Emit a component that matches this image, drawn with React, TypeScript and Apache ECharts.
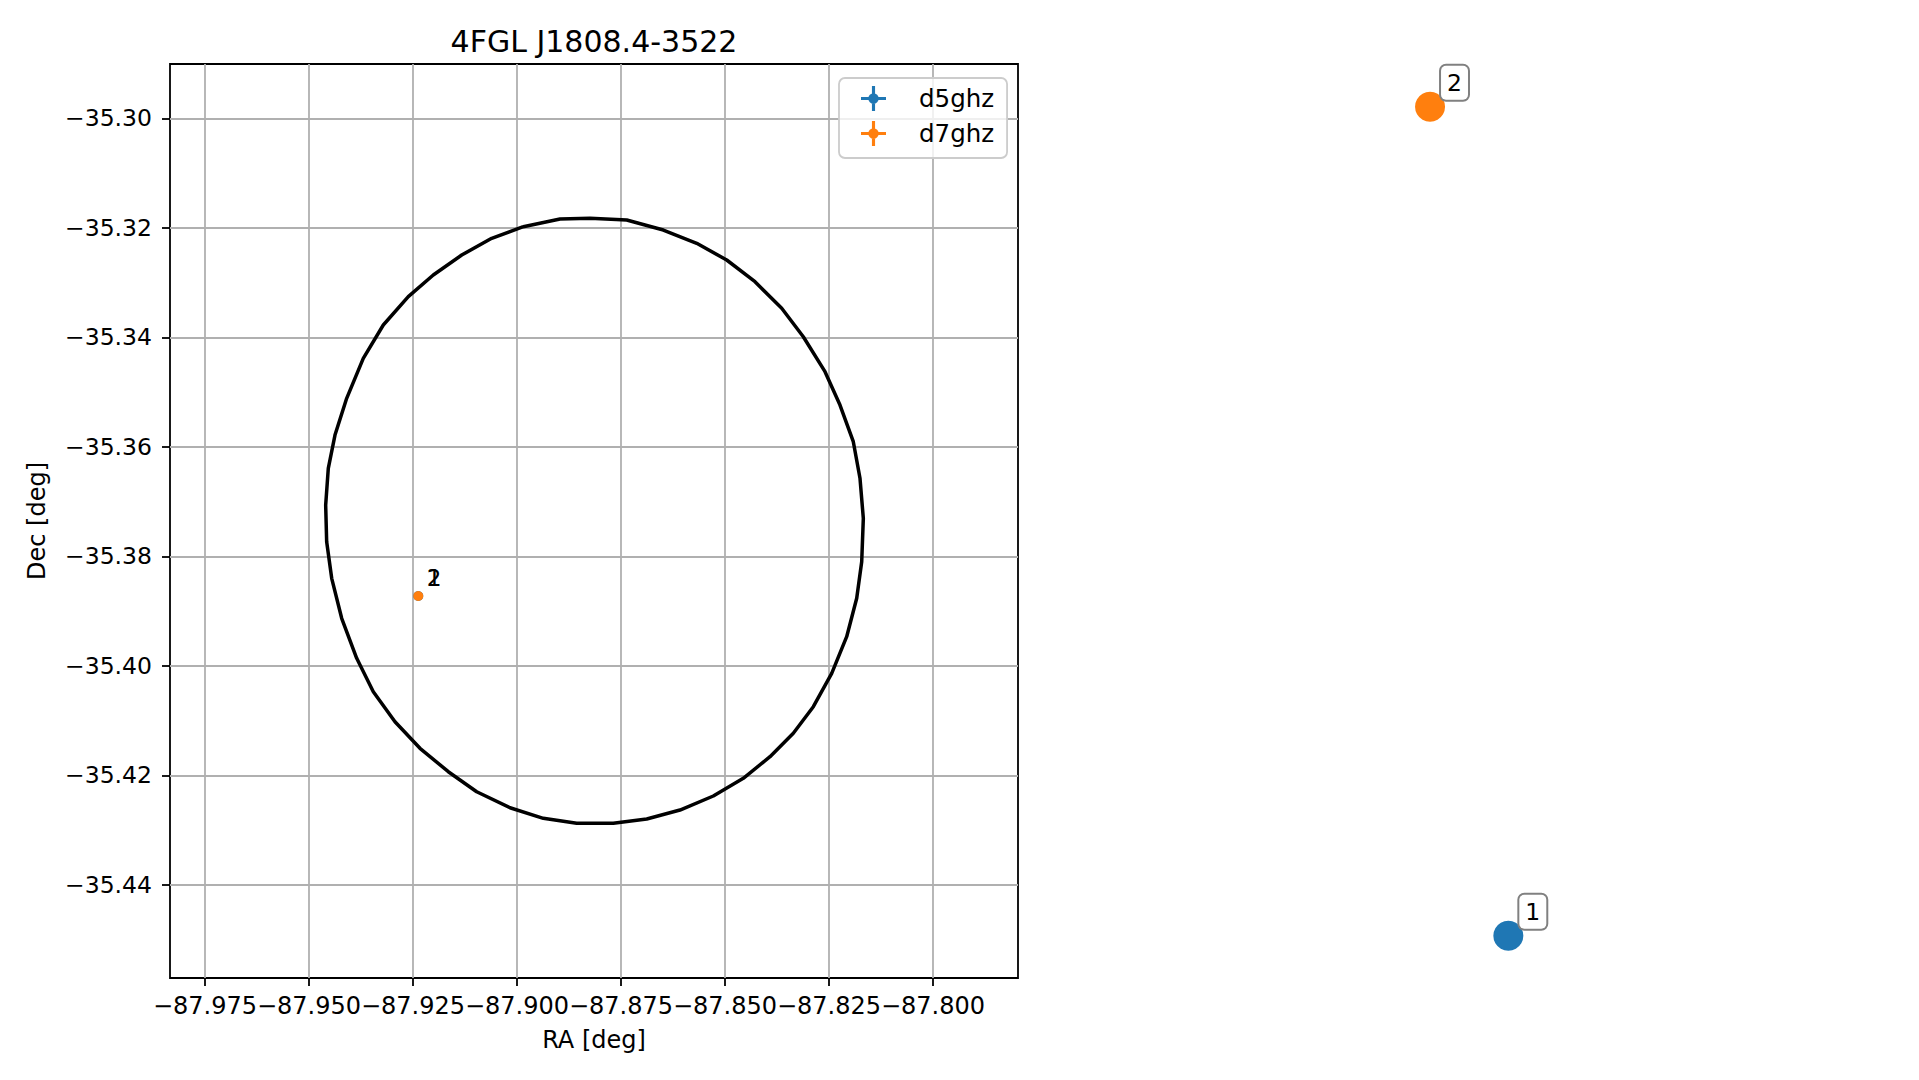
import React, { useEffect, useRef } from 'react';
import * as echarts from 'echarts';

const titleText = '4FGL J1808.4-3522';
const xAxisName = 'RA [deg]';
const yAxisName = 'Dec [deg]';

const xTicks = [-87.975, -87.95, -87.925, -87.9, -87.875, -87.85, -87.825, -87.8];
const yTicks = [-35.3, -35.32, -35.34, -35.36, -35.38, -35.4, -35.42, -35.44];
const raLimits = [-87.98341, -87.77957];
const decLimits = [-35.45702, -35.29008];

const seriesNames = ['d5ghz', 'd7ghz'];
const sourceLabels = ['1', '2'];
const seriesColors = ['#1f77b4', '#ff7f0e'];

// source positions (RA, Dec)
const d5Pos = [[-87.92373, -35.38725]];
const d7Pos = [[-87.92373, -35.38725]];

// the same sources, drawn again in figure-fraction coordinates (right side of the figure)
const d5FigPos = [[0.786, 0.1336]];
const d7FigPos = [[0.7452, 0.9012]];

// 4FGL error ellipse vertices
const ellipseRA = [
  -87.89849, -87.88966, -87.88245, -87.87363, -87.86483, -87.8568, -87.84959, -87.84279,
  -87.83637, -87.83118, -87.82596, -87.82236, -87.81916, -87.81755, -87.81675, -87.81714,
  -87.81834, -87.82075, -87.82435, -87.82877, -87.83358, -87.83918, -87.8456, -87.85281,
  -87.86082, -87.86882, -87.87685, -87.88565, -87.89368, -87.90168, -87.90969, -87.91651,
  -87.92332, -87.92933, -87.93454, -87.93853, -87.94214, -87.94454, -87.94575, -87.94599,
  -87.94536, -87.94375, -87.94094, -87.93695, -87.93214, -87.92613, -87.92012, -87.91329,
  -87.90608, -87.89849,
];
const ellipseDec = [
  -35.3198, -35.31839, -35.31826, -35.31858, -35.3204, -35.32283, -35.32588, -35.32984,
  -35.3347, -35.33989, -35.34628, -35.35237, -35.35907, -35.36575, -35.37306, -35.38099,
  -35.38767, -35.39468, -35.40137, -35.40747, -35.41233, -35.4166, -35.42055, -35.42378,
  -35.42634, -35.42798, -35.42877, -35.42877, -35.42785, -35.42592, -35.423, -35.41934,
  -35.41507, -35.41021, -35.40473, -35.39863, -35.39132, -35.38402, -35.37733, -35.37063,
  -35.36393, -35.35785, -35.35114, -35.34384, -35.33775, -35.33258, -35.32862, -35.32497,
  -35.32192, -35.3198,
];

const FONT = "'DejaVu Sans', 'Liberation Sans', sans-serif";
const crossIcon =
  'path://M0,10.5 L24,10.5 L24,13.5 L0,13.5 Z M10.5,0 L13.5,0 L13.5,24 L10.5,24 Z M7,12 A5,5 0 0 1 17,12 A5,5 0 0 1 7,12 Z';

const fmt = (v: number, d: number) => {
  const s = Math.abs(v).toFixed(d);
  return v < 0 ? '\u2212' + s : s;
};

export default function App() {
  const ref = useRef<HTMLDivElement>(null);

  useEffect(() => {
    if (!ref.current) return;
    const chart = echarts.init(ref.current, null, { renderer: 'svg' });

    const ellipseData = ellipseRA.map((ra, i) => [ra, ellipseDec[i]]);

    const mainLabel = (text: string) => ({
      show: true,
      formatter: text,
      position: [13.5, -12.7],
      align: 'left',
      verticalAlign: 'middle',
      color: '#000',
      fontSize: 23,
      fontFamily: FONT,
    });

    const boxLabel = (text: string) => ({
      show: true,
      formatter: text,
      position: [26, -26],
      align: 'left',
      verticalAlign: 'top',
      color: '#000',
      fontSize: 23.5,
      lineHeight: 24,
      fontFamily: FONT,
      padding: [5, 6, 5, 6],
      backgroundColor: '#ffffff',
      borderColor: '#808080',
      borderWidth: 2,
      borderRadius: 5,
    });

    const option: any = {
      animation: false,
      backgroundColor: '#ffffff',
      title: {
        text: titleText,
        left: 594,
        top: 26,
        padding: 0,
        textAlign: 'center',
        textStyle: { fontSize: 30, fontWeight: 'normal', color: '#000', fontFamily: FONT },
      },
      legend: {
        data: [
          { name: seriesNames[0], icon: crossIcon },
          { name: seriesNames[1], icon: crossIcon },
        ],
        orient: 'vertical',
        left: 839,
        top: 78,
        padding: [8, 13, 12, 22],
        itemWidth: 25,
        itemHeight: 25,
        itemGap: 10,
        selectedMode: false,
        backgroundColor: 'rgba(255,255,255,0.8)',
        borderColor: '#cccccc',
        borderWidth: 1.8,
        borderRadius: 6,
        textStyle: {
          fontSize: 24.5,
          color: '#000',
          fontFamily: FONT,
          lineHeight: 25,
          padding: [0, 0, 0, 28],
        },
      },
      grid: [
        {
          left: 170,
          top: 64,
          width: 848,
          height: 914,
          show: true,
          borderColor: '#000',
          borderWidth: 1.8,
          backgroundColor: 'transparent',
          containLabel: false,
        },
        { left: 0, top: 0, width: 1919, height: 1080, show: false, containLabel: false },
      ],
      xAxis: [
        {
          type: 'value',
          gridIndex: 0,
          min: raLimits[0],
          max: raLimits[1],
          name: xAxisName,
          nameLocation: 'middle',
          nameGap: 50,
          nameTextStyle: { fontSize: 24, color: '#000', fontFamily: FONT },
          axisLine: { show: false },
          axisTick: {
            show: true,
            customValues: xTicks,
            length: 8,
            inside: false,
            lineStyle: { color: '#000', width: 1.8 },
          },
          axisLabel: {
            show: true,
            customValues: xTicks,
            margin: 16,
            fontSize: 24,
            lineHeight: 24,
            color: '#000',
            fontFamily: FONT,
            formatter: (v: number) => fmt(v, 3),
          },
          splitLine: { show: true, lineStyle: { color: '#b0b0b0', width: 1.8 } },
        },
        { type: 'value', gridIndex: 1, min: 0, max: 1, show: false },
      ],
      yAxis: [
        {
          type: 'value',
          gridIndex: 0,
          min: decLimits[0],
          max: decLimits[1],
          name: yAxisName,
          nameLocation: 'middle',
          nameGap: 121,
          nameRotate: 90,
          nameTextStyle: { fontSize: 24, color: '#000', fontFamily: FONT },
          axisLine: { show: false },
          axisTick: {
            show: true,
            customValues: yTicks,
            length: 8,
            inside: false,
            lineStyle: { color: '#000', width: 1.8 },
          },
          axisLabel: {
            show: true,
            customValues: yTicks,
            margin: 18,
            fontSize: 23.5,
            color: '#000',
            fontFamily: FONT,
            formatter: (v: number) => fmt(v, 2),
          },
          splitLine: { show: true, lineStyle: { color: '#b0b0b0', width: 1.8 } },
        },
        { type: 'value', gridIndex: 1, min: 0, max: 1, show: false },
      ],
      series: [
        {
          name: 'ellipse',
          type: 'line',
          xAxisIndex: 0,
          yAxisIndex: 0,
          data: ellipseData,
          showSymbol: false,
          symbol: 'none',
          lineStyle: { color: '#000', width: 3.5 },
          itemStyle: { color: '#000' },
          z: 2,
          silent: true,
        },
        {
          name: seriesNames[0],
          type: 'scatter',
          xAxisIndex: 0,
          yAxisIndex: 0,
          data: d5Pos,
          symbolSize: 10,
          itemStyle: { color: seriesColors[0], opacity: 1 },
          label: mainLabel(sourceLabels[0]),
          z: 3,
        },
        {
          name: seriesNames[1],
          type: 'scatter',
          xAxisIndex: 0,
          yAxisIndex: 0,
          data: d7Pos,
          symbolSize: 10,
          itemStyle: { color: seriesColors[1], opacity: 1 },
          label: mainLabel(sourceLabels[1]),
          z: 4,
        },
        {
          name: seriesNames[0] + ' (figure)',
          type: 'scatter',
          xAxisIndex: 1,
          yAxisIndex: 1,
          data: d5FigPos,
          symbolSize: 30,
          itemStyle: { color: seriesColors[0], opacity: 1 },
          label: boxLabel(sourceLabels[0]),
          z: 5,
        },
        {
          name: seriesNames[1] + ' (figure)',
          type: 'scatter',
          xAxisIndex: 1,
          yAxisIndex: 1,
          data: d7FigPos,
          symbolSize: 30,
          itemStyle: { color: seriesColors[1], opacity: 1 },
          label: boxLabel(sourceLabels[1]),
          z: 5,
        },
      ],
    };

    chart.setOption(option);
    return () => {
      chart.dispose();
    };
  }, []);

  return (
    <div
      ref={ref}
      style={{ position: 'absolute', left: 0, top: 0, width: '1919px', height: '1080px' }}
    />
  );
}
